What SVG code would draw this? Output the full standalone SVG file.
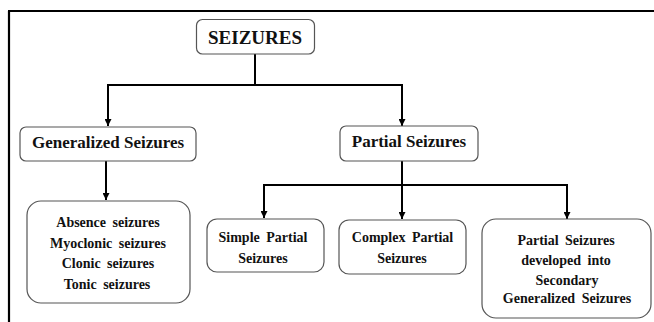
<svg xmlns="http://www.w3.org/2000/svg" width="654" height="322" viewBox="0 0 654 322">
<defs>
<style>
.box{fill:#fff;stroke:#555;stroke-width:1.2}
.t{font-family:"Liberation Serif","Times New Roman",serif;font-weight:bold;fill:#111;text-anchor:middle}
.big{font-size:19px}
.mid{font-size:17px}
.sm{font-size:14px;word-spacing:3px}
.ln{fill:none;stroke:#000;stroke-width:2}
.fr{fill:none;stroke:#000;stroke-width:2.2}
</style>
<marker id="ah" markerUnits="userSpaceOnUse" markerWidth="7" markerHeight="7" refX="7" refY="3.5" orient="auto">
<path d="M0,0 L7,3.5 L0,7 z" fill="#000"/>
</marker>
</defs>
<rect width="654" height="322" fill="#fff"/>
<g id="frame">
<path class="fr" d="M8,11 H654 M9,11 V322"/>
</g>
<g id="connectors">
<path class="ln" d="M255,54 V85 M107,85 H403"/>
<path class="ln" d="M108,85 V126" marker-end="url(#ah)"/>
<path class="ln" d="M402,85 V126" marker-end="url(#ah)"/>
<path class="ln" d="M106,161 V200" marker-end="url(#ah)"/>
<path class="ln" d="M402,161 V185 M263,185 H568"/>
<path class="ln" d="M264,185 V218" marker-end="url(#ah)"/>
<path class="ln" d="M402,185 V219" marker-end="url(#ah)"/>
<path class="ln" d="M567,185 V219" marker-end="url(#ah)"/>
</g>
<g id="seizures">
<rect class="box" x="196.5" y="19.5" width="118" height="34.5" rx="6"/>
<text class="t big" x="255" y="44">SEIZURES</text>
</g>
<g id="generalized">
<rect class="box" x="20" y="127" width="176" height="34" rx="6"/>
<text class="t mid" x="108" y="148">Generalized Seizures</text>
</g>
<g id="partial">
<rect class="box" x="340" y="126" width="138" height="35" rx="6"/>
<text class="t mid" x="409" y="147">Partial Seizures</text>
</g>
<g id="generalized-types">
<rect class="box" x="27" y="201" width="163" height="102" rx="14"/>
<text class="t sm" x="108" y="226.5">Absence seizures</text>
<text class="t sm" x="108" y="247.5">Myoclonic seizures</text>
<text class="t sm" x="108" y="268">Clonic seizures</text>
<text class="t sm" x="107" y="288.5">Tonic seizures</text>
</g>
<g id="simple-partial">
<rect class="box" x="207" y="219" width="117" height="53" rx="10"/>
<text class="t sm" x="263" y="241.5">Simple Partial</text>
<text class="t sm" x="263" y="263">Seizures</text>
</g>
<g id="complex-partial">
<rect class="box" x="339" y="220" width="127" height="54" rx="10"/>
<text class="t sm" x="402.5" y="242">Complex Partial</text>
<text class="t sm" x="402" y="263">Seizures</text>
</g>
<g id="secondary-generalized">
<rect class="box" x="482" y="219" width="169" height="99" rx="14"/>
<text class="t sm" x="566" y="245">Partial Seizures</text>
<text class="t sm" x="566" y="265">developed into</text>
<text class="t sm" x="567" y="285">Secondary</text>
<text class="t sm" x="567" y="303">Generalized Seizures</text>
</g>
</svg>
